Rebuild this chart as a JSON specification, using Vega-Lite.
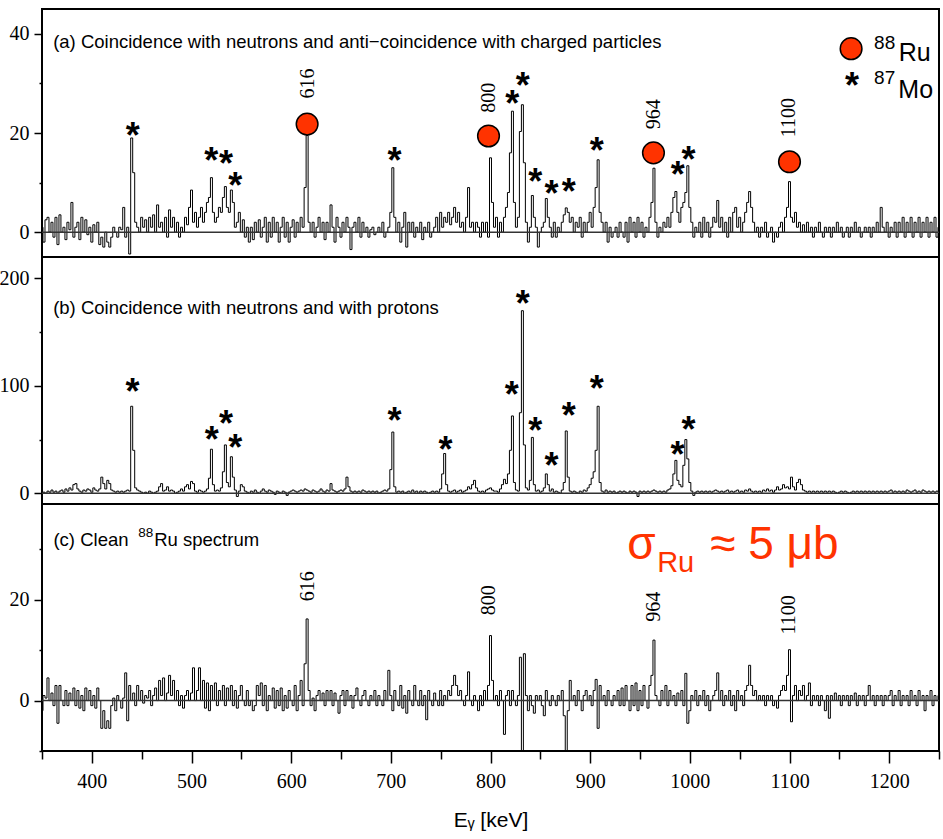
{
"$schema": "https://vega.github.io/schema/vega-lite/v6.json",
"padding": {"left": -2, "top": 8, "right": 0, "bottom": 0},
"background": "white",
"config": {
 "view": {"stroke": "black", "strokeWidth": 2},
 "axis": {"grid": false, "domain": false, "tickColor": "black", "tickWidth": 1.5, "labelColor": "black", "labelFont": "Liberation Serif, Times New Roman, DejaVu Serif, serif", "labelFontSize": 20, "titleFont": "Liberation Sans", "titleFontSize": 21, "titleFontWeight": "normal", "titleColor": "black"},
 "text": {"font": "Liberation Sans", "color": "black"}
},
"datasets": {
 "spec": [
{"e":350,"a":1,"b":0,"c":-2},{"e":352,"a":-2,"b":1,"c":1},{"e":354,"a":2.5,"b":0,"c":0.5},{"e":356,"a":3,"b":2,"c":4.5},{"e":358,"a":0,"b":1,"c":0},
{"e":360,"a":2,"b":3,"c":1.5},{"e":362,"a":-1,"b":1,"c":-1},{"e":364,"a":3,"b":2,"c":3},{"e":366,"a":-2.5,"b":0,"c":-4.5},{"e":368,"a":3.5,"b":2,"c":3},
{"e":370,"a":0,"b":3,"c":0},{"e":372,"a":1,"b":1,"c":-1},{"e":374,"a":-1.5,"b":4,"c":2},{"e":376,"a":2,"b":2,"c":-1},{"e":378,"a":0.5,"b":5,"c":1.5},
{"e":380,"a":6,"b":3,"c":0},{"e":382,"a":-1,"b":8,"c":2.5},{"e":384,"a":1,"b":9,"c":-1},{"e":386,"a":2,"b":4,"c":2},{"e":388,"a":-1.5,"b":2,"c":-1.5},
{"e":390,"a":3,"b":1,"c":1},{"e":392,"a":0,"b":3,"c":-2},{"e":394,"a":2.5,"b":2,"c":2.5},{"e":396,"a":-0.5,"b":4,"c":0},{"e":398,"a":1,"b":3,"c":2},
{"e":400,"a":-2,"b":1,"c":-1},{"e":402,"a":1.5,"b":5,"c":1},{"e":404,"a":0,"b":3,"c":-1.5},{"e":406,"a":2,"b":2,"c":2.5},{"e":408,"a":-2.5,"b":4,"c":0},
{"e":410,"a":-1,"b":15,"c":-5.5},{"e":412,"a":-3,"b":9,"c":-2},{"e":414,"a":0,"b":4,"c":-5.5},{"e":416,"a":-2,"b":12,"c":-4},{"e":418,"a":-3,"b":9,"c":-5.5},
{"e":420,"a":-1,"b":3,"c":-1},{"e":422,"a":1,"b":2,"c":0.5},{"e":424,"a":0,"b":1,"c":-2},{"e":426,"a":-1,"b":2,"c":1},{"e":428,"a":1,"b":1,"c":0},
{"e":430,"a":0.5,"b":2,"c":-1.5},{"e":432,"a":5,"b":1,"c":0.5},{"e":434,"a":-1,"b":2,"c":5.5},{"e":436,"a":1,"b":3,"c":-4},{"e":438,"a":-4.4,"b":2,"c":3},
{"e":440,"a":19,"b":81,"c":0},{"e":442,"a":12,"b":40,"c":1.5},{"e":444,"a":2,"b":5,"c":-1},{"e":446,"a":1,"b":3,"c":3},{"e":448,"a":0,"b":2,"c":0},
{"e":450,"a":3,"b":1,"c":2},{"e":452,"a":1,"b":0,"c":-0.5},{"e":454,"a":2.5,"b":1,"c":1},{"e":456,"a":0,"b":0,"c":0.5},{"e":458,"a":3,"b":2,"c":2},
{"e":460,"a":1,"b":1,"c":-1},{"e":462,"a":3.5,"b":0,"c":1},{"e":464,"a":0,"b":1,"c":2.5},{"e":466,"a":5.5,"b":2,"c":0},{"e":468,"a":1,"b":6,"c":4},
{"e":470,"a":2,"b":9,"c":1},{"e":472,"a":0,"b":2,"c":4.5},{"e":474,"a":3,"b":3,"c":0},{"e":476,"a":-1,"b":6,"c":1.5},{"e":478,"a":4.5,"b":2,"c":5},
{"e":480,"a":1,"b":3,"c":1},{"e":482,"a":3,"b":2,"c":4},{"e":484,"a":0,"b":0,"c":0},{"e":486,"a":2,"b":1,"c":2},{"e":488,"a":-1,"b":2,"c":-1},
{"e":490,"a":1,"b":4,"c":1},{"e":492,"a":0,"b":2,"c":-1.5},{"e":494,"a":3,"b":6,"c":1},{"e":496,"a":1.5,"b":8,"c":2},{"e":498,"a":5,"b":4,"c":0},
{"e":500,"a":8.5,"b":11,"c":1.5},{"e":502,"a":2,"b":9,"c":6.5},{"e":504,"a":4,"b":2,"c":0},{"e":506,"a":1,"b":1,"c":2},{"e":508,"a":3,"b":3,"c":6.5},
{"e":510,"a":5,"b":2,"c":0},{"e":512,"a":2,"b":1,"c":4},{"e":514,"a":4,"b":2,"c":-1.5},{"e":516,"a":6,"b":4,"c":3.5},{"e":518,"a":7,"b":14,"c":-2},
{"e":520,"a":11,"b":41,"c":3},{"e":522,"a":4,"b":8,"c":0},{"e":524,"a":2,"b":2,"c":3.5},{"e":526,"a":3,"b":3,"c":-1},{"e":528,"a":5,"b":2,"c":2},
{"e":530,"a":4,"b":5,"c":0},{"e":532,"a":7,"b":20,"c":3},{"e":534,"a":9.2,"b":45,"c":-1},{"e":536,"a":5,"b":10,"c":2.5},{"e":538,"a":4,"b":6,"c":0},
{"e":540,"a":8.5,"b":34,"c":3},{"e":542,"a":6,"b":15,"c":-1},{"e":544,"a":1,"b":3,"c":2},{"e":546,"a":2,"b":-3,"c":-1.5},{"e":548,"a":4,"b":2,"c":1},
{"e":550,"a":0,"b":8,"c":3},{"e":552,"a":2.5,"b":6,"c":0},{"e":554,"a":-1,"b":2,"c":-1},{"e":556,"a":1,"b":1,"c":2},{"e":558,"a":-2,"b":0,"c":-1},
{"e":560,"a":1,"b":2,"c":0},{"e":562,"a":-1.5,"b":1,"c":-2},{"e":564,"a":2,"b":3,"c":-1},{"e":566,"a":0,"b":1,"c":3},{"e":568,"a":2.5,"b":0,"c":1},
{"e":570,"a":-1,"b":2,"c":3.5},{"e":572,"a":1,"b":4,"c":-1},{"e":574,"a":3,"b":2,"c":3},{"e":576,"a":-2,"b":1,"c":-2},{"e":578,"a":2,"b":3,"c":1},
{"e":580,"a":-1,"b":2,"c":0},{"e":582,"a":3,"b":1,"c":2.5},{"e":584,"a":0,"b":-1,"c":-1.5},{"e":586,"a":2,"b":2,"c":2},{"e":588,"a":-2,"b":1,"c":-1},
{"e":590,"a":1,"b":0,"c":2.5},{"e":592,"a":3,"b":2,"c":-2},{"e":594,"a":-1,"b":1,"c":1},{"e":596,"a":2,"b":-2,"c":-1.5},{"e":598,"a":-2,"b":1,"c":2},
{"e":600,"a":1,"b":2,"c":0},{"e":602,"a":2.5,"b":3,"c":-1},{"e":604,"a":-1,"b":2,"c":3},{"e":606,"a":2,"b":1,"c":-2},{"e":608,"a":0,"b":2,"c":1},
{"e":610,"a":3,"b":3,"c":4},{"e":612,"a":1,"b":2,"c":-1},{"e":614,"a":9,"b":4,"c":7.3},{"e":616,"a":19.5,"b":3,"c":16.2},{"e":618,"a":2,"b":2,"c":2},
{"e":620,"a":0,"b":1,"c":-1},{"e":622,"a":2,"b":3,"c":0.5},{"e":624,"a":-1,"b":2,"c":-2},{"e":626,"a":1,"b":1,"c":1},{"e":628,"a":3,"b":2,"c":2},
{"e":630,"a":0,"b":4,"c":0},{"e":632,"a":2,"b":2,"c":1.5},{"e":634,"a":-1.5,"b":1,"c":-1},{"e":636,"a":2,"b":3,"c":2},{"e":638,"a":0,"b":2,"c":0},
{"e":640,"a":5.5,"b":9,"c":2},{"e":642,"a":1,"b":3,"c":-1},{"e":644,"a":-2,"b":2,"c":1.5},{"e":646,"a":3,"b":1,"c":0},{"e":648,"a":1,"b":2,"c":-2.5},
{"e":650,"a":-1,"b":3,"c":1},{"e":652,"a":2,"b":2,"c":2},{"e":654,"a":0,"b":4,"c":-1},{"e":656,"a":3,"b":15,"c":2},{"e":658,"a":1,"b":6,"c":0},
{"e":660,"a":-3.5,"b":2,"c":1},{"e":662,"a":1,"b":1,"c":-1.5},{"e":664,"a":2,"b":2,"c":1},{"e":666,"a":0,"b":1,"c":2.5},{"e":668,"a":3,"b":2,"c":0},
{"e":670,"a":-1,"b":1,"c":-1},{"e":672,"a":2,"b":3,"c":1},{"e":674,"a":0,"b":2,"c":2},{"e":676,"a":1,"b":1,"c":0},{"e":678,"a":-1,"b":2,"c":-1},
{"e":680,"a":0.5,"b":1,"c":1},{"e":682,"a":1,"b":2,"c":0},{"e":684,"a":-0.5,"b":1,"c":2},{"e":686,"a":0,"b":2,"c":-1},{"e":688,"a":1,"b":0,"c":1},
{"e":690,"a":0,"b":1,"c":0},{"e":692,"a":2,"b":2,"c":-1},{"e":694,"a":-1,"b":3,"c":2},{"e":696,"a":0,"b":2,"c":0},{"e":698,"a":1,"b":4,"c":6},
{"e":700,"a":4,"b":22,"c":1},{"e":702,"a":13,"b":57,"c":-2},{"e":704,"a":3,"b":6,"c":2},{"e":706,"a":0,"b":1,"c":0},{"e":708,"a":2,"b":2,"c":-1},
{"e":710,"a":-2,"b":1,"c":3},{"e":712,"a":1,"b":2,"c":-1.5},{"e":714,"a":4,"b":0,"c":1},{"e":716,"a":-3,"b":1,"c":-2.5},{"e":718,"a":2,"b":2,"c":2},
{"e":720,"a":0,"b":1,"c":0},{"e":722,"a":2,"b":3,"c":-1},{"e":724,"a":-1,"b":1,"c":3},{"e":726,"a":1,"b":2,"c":0},{"e":728,"a":0,"b":0,"c":-1},
{"e":730,"a":2,"b":2,"c":2},{"e":732,"a":-1.5,"b":1,"c":-1},{"e":734,"a":1,"b":2,"c":1},{"e":736,"a":0,"b":1,"c":-3.8},{"e":738,"a":2,"b":0,"c":2},
{"e":740,"a":-1,"b":1,"c":0},{"e":742,"a":0,"b":2,"c":-1},{"e":744,"a":1,"b":1,"c":1.5},{"e":746,"a":3,"b":2,"c":0},{"e":748,"a":0,"b":1,"c":-1},
{"e":750,"a":4,"b":4,"c":2},{"e":752,"a":1,"b":18,"c":-1},{"e":754,"a":3,"b":37,"c":1},{"e":756,"a":2,"b":8,"c":0},{"e":758,"a":4,"b":2,"c":2},
{"e":760,"a":1.5,"b":1,"c":1},{"e":762,"a":3,"b":2,"c":3},{"e":764,"a":5,"b":3,"c":5},{"e":766,"a":2,"b":1,"c":3},{"e":768,"a":4,"b":2,"c":1},
{"e":770,"a":1,"b":3,"c":2},{"e":772,"a":2,"b":1,"c":0},{"e":774,"a":0,"b":2,"c":-1},{"e":776,"a":3,"b":3,"c":1},{"e":778,"a":9,"b":6,"c":5.7},
{"e":780,"a":1,"b":4,"c":0},{"e":782,"a":2,"b":8,"c":-1},{"e":784,"a":0,"b":12,"c":1},{"e":786,"a":2,"b":5,"c":0},{"e":788,"a":1,"b":2,"c":-2},
{"e":790,"a":-1,"b":1,"c":1},{"e":792,"a":2,"b":2,"c":-1},{"e":794,"a":0,"b":1,"c":2},{"e":796,"a":2,"b":3,"c":0},{"e":798,"a":-1,"b":4,"c":3},
{"e":800,"a":15,"b":5,"c":12.9},{"e":802,"a":6,"b":3,"c":4},{"e":804,"a":1,"b":2,"c":0},{"e":806,"a":3,"b":2,"c":1},{"e":808,"a":-1,"b":1,"c":-1},
{"e":810,"a":2,"b":4,"c":2},{"e":812,"a":0,"b":8,"c":0},{"e":814,"a":3,"b":13,"c":-6.7},{"e":816,"a":5,"b":9,"c":1},{"e":818,"a":8,"b":18,"c":2},
{"e":820,"a":16,"b":40,"c":-1},{"e":822,"a":24.4,"b":72,"c":2},{"e":824,"a":6,"b":10,"c":0},{"e":826,"a":1,"b":3,"c":-1},{"e":828,"a":3,"b":2,"c":1},
{"e":830,"a":20.3,"b":75,"c":8.6},{"e":832,"a":25.7,"b":170,"c":-10},{"e":834,"a":14,"b":45,"c":9.3},{"e":836,"a":2,"b":5,"c":1},{"e":838,"a":-2,"b":3,"c":-2},
{"e":840,"a":1,"b":12,"c":1},{"e":842,"a":7.4,"b":52,"c":-1},{"e":844,"a":3,"b":8,"c":-2.5},{"e":846,"a":1,"b":2,"c":1},{"e":848,"a":-3,"b":3,"c":0},
{"e":850,"a":0,"b":1,"c":1},{"e":852,"a":1,"b":2,"c":-1},{"e":854,"a":2,"b":5,"c":-3},{"e":856,"a":6.8,"b":18,"c":2},{"e":858,"a":3,"b":8,"c":0},
{"e":860,"a":1,"b":2,"c":-1},{"e":862,"a":-1,"b":4,"c":1},{"e":864,"a":2,"b":1,"c":0},{"e":866,"a":-1,"b":2,"c":-1},{"e":868,"a":1,"b":1,"c":1},
{"e":870,"a":0,"b":0,"c":0},{"e":872,"a":2,"b":3,"c":2},{"e":874,"a":3.5,"b":10,"c":-3},{"e":876,"a":4.9,"b":58,"c":-10},{"e":878,"a":4,"b":15,"c":-2},
{"e":880,"a":2,"b":2,"c":4},{"e":882,"a":3,"b":1,"c":0},{"e":884,"a":0,"b":2,"c":1},{"e":886,"a":2,"b":1,"c":-1},{"e":888,"a":1,"b":0,"c":2},
{"e":890,"a":3,"b":2,"c":0},{"e":892,"a":-1,"b":1,"c":-2},{"e":894,"a":2,"b":3,"c":1},{"e":896,"a":0,"b":2,"c":2},{"e":898,"a":2,"b":5,"c":0},
{"e":900,"a":4,"b":8,"c":1},{"e":902,"a":1,"b":14,"c":-1},{"e":904,"a":5,"b":20,"c":2},{"e":906,"a":9,"b":40,"c":4.2},{"e":908,"a":14.6,"b":81,"c":-5.5},
{"e":910,"a":4,"b":10,"c":3},{"e":912,"a":2,"b":2,"c":0},{"e":914,"a":0,"b":1,"c":1},{"e":916,"a":2,"b":3,"c":-1},{"e":918,"a":-2,"b":1,"c":2},
{"e":920,"a":1,"b":2,"c":0},{"e":922,"a":-1,"b":1,"c":-1},{"e":924,"a":0,"b":2,"c":1},{"e":926,"a":1,"b":0,"c":0},{"e":928,"a":-1,"b":1,"c":2},
{"e":930,"a":2,"b":2,"c":-1},{"e":932,"a":0,"b":1,"c":2.5},{"e":934,"a":-1,"b":2,"c":-1},{"e":936,"a":2,"b":1,"c":3},{"e":938,"a":-2,"b":0,"c":0},
{"e":940,"a":3,"b":2,"c":-2},{"e":942,"a":0,"b":1,"c":3},{"e":944,"a":2,"b":2,"c":-1},{"e":946,"a":-1,"b":1,"c":3.5},{"e":948,"a":3,"b":-3,"c":-2},
{"e":950,"a":0,"b":2,"c":2},{"e":952,"a":2,"b":1,"c":-1},{"e":954,"a":-1,"b":2,"c":3},{"e":956,"a":1,"b":1,"c":0},{"e":958,"a":0,"b":2,"c":-1.5},
{"e":960,"a":3,"b":1,"c":3},{"e":962,"a":6,"b":2,"c":5},{"e":964,"a":12.9,"b":3,"c":12},{"e":966,"a":2,"b":2,"c":1},{"e":968,"a":-1,"b":1,"c":0},
{"e":970,"a":1,"b":2,"c":-1},{"e":972,"a":0,"b":1,"c":2},{"e":974,"a":2,"b":2,"c":0},{"e":976,"a":1,"b":1,"c":3},{"e":978,"a":3,"b":3,"c":-1},
{"e":980,"a":1,"b":4,"c":2},{"e":982,"a":4,"b":7,"c":0},{"e":984,"a":7,"b":18,"c":1},{"e":986,"a":8.2,"b":30.6,"c":-1},{"e":988,"a":4,"b":12,"c":1.5},
{"e":990,"a":2,"b":8,"c":0},{"e":992,"a":5,"b":6,"c":2},{"e":994,"a":6,"b":26,"c":-1},{"e":996,"a":8,"b":50,"c":5.4},{"e":998,"a":13.4,"b":32,"c":-4.5},
{"e":1000,"a":5,"b":10,"c":-2},{"e":1002,"a":2,"b":2,"c":1},{"e":1004,"a":-1,"b":-2,"c":0},{"e":1006,"a":1,"b":1,"c":2},{"e":1008,"a":0,"b":2,"c":-1},
{"e":1010,"a":2,"b":1,"c":1},{"e":1012,"a":-1,"b":2,"c":0},{"e":1014,"a":3,"b":1,"c":2},{"e":1016,"a":0,"b":2,"c":-1},{"e":1018,"a":2,"b":1,"c":1},
{"e":1020,"a":-1,"b":2,"c":-2},{"e":1022,"a":1,"b":1,"c":0},{"e":1024,"a":3,"b":2,"c":1},{"e":1026,"a":2,"b":3,"c":2},{"e":1028,"a":6.4,"b":2,"c":5.5},
{"e":1030,"a":1,"b":1,"c":0},{"e":1032,"a":3,"b":2,"c":2},{"e":1034,"a":0,"b":1,"c":-1},{"e":1036,"a":2,"b":2,"c":1},{"e":1038,"a":-1,"b":3,"c":0},
{"e":1040,"a":3,"b":1,"c":2},{"e":1042,"a":0,"b":2,"c":-1},{"e":1044,"a":4,"b":1,"c":1},{"e":1046,"a":5,"b":2,"c":-2},{"e":1048,"a":1,"b":3,"c":2},
{"e":1050,"a":3,"b":1,"c":0},{"e":1052,"a":0,"b":2,"c":1},{"e":1054,"a":2,"b":1,"c":-1},{"e":1056,"a":4,"b":3,"c":2},{"e":1058,"a":6,"b":2,"c":3},
{"e":1060,"a":8.2,"b":4,"c":7},{"e":1062,"a":5,"b":2,"c":3},{"e":1064,"a":2,"b":1,"c":1},{"e":1066,"a":0,"b":2,"c":2},{"e":1068,"a":1,"b":1,"c":0},
{"e":1070,"a":-1,"b":2,"c":1},{"e":1072,"a":1,"b":1,"c":0},{"e":1074,"a":0,"b":3,"c":1},{"e":1076,"a":2,"b":2,"c":-1},{"e":1078,"a":-1,"b":4,"c":1},
{"e":1080,"a":0,"b":2,"c":0},{"e":1082,"a":1,"b":3,"c":1},{"e":1084,"a":-2,"b":1,"c":-1},{"e":1086,"a":0,"b":3,"c":0},{"e":1088,"a":-1,"b":6,"c":-1.5},
{"e":1090,"a":1,"b":3,"c":1},{"e":1092,"a":2,"b":4,"c":2},{"e":1094,"a":0,"b":8,"c":3},{"e":1096,"a":3,"b":5,"c":2},{"e":1098,"a":5,"b":6,"c":5},
{"e":1100,"a":10.2,"b":4,"c":10.1},{"e":1102,"a":3,"b":15,"c":-4.2},{"e":1104,"a":2,"b":6,"c":1},{"e":1106,"a":4,"b":3,"c":3},{"e":1108,"a":1,"b":10,"c":0},
{"e":1110,"a":2,"b":13,"c":2},{"e":1112,"a":0,"b":8,"c":1},{"e":1114,"a":1.5,"b":3,"c":3},{"e":1116,"a":0,"b":2,"c":0},{"e":1118,"a":2,"b":1,"c":1},
{"e":1120,"a":0,"b":2,"c":3.5},{"e":1122,"a":1,"b":1,"c":-1},{"e":1124,"a":-1,"b":2,"c":1},{"e":1126,"a":1,"b":1,"c":0},{"e":1128,"a":0,"b":2,"c":1},
{"e":1130,"a":2,"b":1,"c":-1},{"e":1132,"a":0,"b":2,"c":1},{"e":1134,"a":-1,"b":1,"c":0},{"e":1136,"a":1,"b":2,"c":-2},{"e":1138,"a":0,"b":1,"c":1},
{"e":1140,"a":1,"b":2,"c":-3.5},{"e":1142,"a":-1,"b":1,"c":1},{"e":1144,"a":1,"b":2,"c":0},{"e":1146,"a":0,"b":1,"c":1.5},{"e":1148,"a":2,"b":0,"c":0},
{"e":1150,"a":0,"b":1,"c":1},{"e":1152,"a":1,"b":2,"c":-1},{"e":1154,"a":-1,"b":1,"c":1},{"e":1156,"a":0,"b":2,"c":0},{"e":1158,"a":1,"b":1,"c":1},
{"e":1160,"a":-1,"b":0,"c":-1},{"e":1162,"a":1,"b":1,"c":1},{"e":1164,"a":0,"b":2,"c":0},{"e":1166,"a":2,"b":1,"c":1.5},{"e":1168,"a":0,"b":2,"c":-1},
{"e":1170,"a":1,"b":1,"c":1},{"e":1172,"a":-1,"b":2,"c":0},{"e":1174,"a":0,"b":1,"c":1},{"e":1176,"a":1,"b":2,"c":-1},{"e":1178,"a":0,"b":1,"c":1},
{"e":1180,"a":1,"b":2,"c":3},{"e":1182,"a":-1,"b":1,"c":0},{"e":1184,"a":1,"b":2,"c":1},{"e":1186,"a":0,"b":1,"c":-1},{"e":1188,"a":2,"b":2,"c":1},
{"e":1190,"a":0,"b":1,"c":0},{"e":1192,"a":5,"b":2,"c":1},{"e":1194,"a":1,"b":1,"c":-1},{"e":1196,"a":0,"b":2,"c":1},{"e":1198,"a":2,"b":1,"c":0},
{"e":1200,"a":-1,"b":2,"c":1},{"e":1202,"a":1,"b":3,"c":2},{"e":1204,"a":0,"b":1,"c":-1},{"e":1206,"a":2,"b":2,"c":1},{"e":1208,"a":-1,"b":1,"c":0},
{"e":1210,"a":2,"b":2,"c":2},{"e":1212,"a":0,"b":1,"c":-1},{"e":1214,"a":3,"b":2,"c":1},{"e":1216,"a":-1,"b":1,"c":0},{"e":1218,"a":2,"b":3,"c":1},
{"e":1220,"a":0,"b":2,"c":-1},{"e":1222,"a":3,"b":1,"c":2},{"e":1224,"a":-1,"b":2,"c":0},{"e":1226,"a":2,"b":3,"c":1},{"e":1228,"a":0,"b":1,"c":-1},
{"e":1230,"a":3,"b":2,"c":2},{"e":1232,"a":-1,"b":1,"c":0},{"e":1234,"a":2,"b":3,"c":1},{"e":1236,"a":0,"b":2,"c":-2},{"e":1238,"a":3,"b":1,"c":1},
{"e":1240,"a":-1,"b":2,"c":0},{"e":1242,"a":2,"b":1,"c":2},{"e":1244,"a":0,"b":2,"c":-1},{"e":1246,"a":3,"b":1,"c":1},{"e":1248,"a":-1,"b":2,"c":0},
{"e":1250,"a":1,"b":1,"c":1}
 ],
 "astA": [{"e":441,"y":20.7},{"e":519.7,"y":15.6},{"e":534.7,"y":14.9},{"e":543.8,"y":10.5},{"e":703.6,"y":15.6},{"e":821.7,"y":27.0},{"e":832.4,"y":30.6},{"e":844.8,"y":11.3},{"e":861.1,"y":9.0},{"e":878.6,"y":9.3},{"e":906.7,"y":17.6},{"e":988,"y":12.7},{"e":998.6,"y":15.8},{"e":1162.8,"y":30.7}],
 "astB": [{"e":440.8,"y":99.9},{"e":520.2,"y":54.9},{"e":534.7,"y":69.8},{"e":543.8,"y":48.0},{"e":703.6,"y":72.9},{"e":754.8,"y":46.2},{"e":821.4,"y":96.8},{"e":832.4,"y":181.6},{"e":844.8,"y":63.6},{"e":861.1,"y":31.0},{"e":878.6,"y":77.3},{"e":906.7,"y":103.0},{"e":987.6,"y":41.0},{"e":998.6,"y":64.2}],
 "circA": [{"e":616,"y":21.8},{"e":798,"y":19.4},{"e":963.5,"y":16.0},{"e":1100,"y":14.2},{"e":1161.8,"y":37.0}],
 "labA": [{"e":616.5,"y":30.0,"t":"616"},{"e":798.6,"y":27.1,"t":"800"},{"e":964.5,"y":23.8,"t":"964"},{"e":1099.6,"y":23.1,"t":"1100"}],
 "labC": [{"e":616.5,"y":22.7,"t":"616"},{"e":798.6,"y":19.9,"t":"800"},{"e":964.5,"y":18.6,"t":"964"},{"e":1099.6,"y":17.0,"t":"1100"}]
},
"vconcat": [
 {
  "width": 897, "height": 248,
  "layer": [
   {"data": {"name": "spec"}, "mark": {"type": "line", "interpolate": "step", "color": "black", "strokeWidth": 1},
    "encoding": {
     "x": {"field": "e", "type": "quantitative", "scale": {"domain": [350, 1250], "nice": false, "zero": false}, "axis": null},
     "y": {"field": "a", "type": "quantitative", "scale": {"domain": [-5, 45], "nice": false, "zero": false}, "axis": {"orient": "left", "values": [0, 20, 40], "tickSize": 8, "labelPadding": 5, "title": null, "format": "d"}}}},
   {"data": {"values": [{"v": 0}]}, "mark": {"type": "rule", "color": "#333333", "strokeWidth": 1.5},
    "encoding": {"y": {"field": "v", "type": "quantitative", "axis": {"orient": "left", "values": [10, 30], "tickSize": 3, "labels": false, "title": null}}}},
   {"data": {"name": "astA"}, "mark": {"type": "text", "text": "*", "font": "Liberation Sans", "fontWeight": "bold", "fontSize": 36, "align": "center", "baseline": "alphabetic", "dy": 18},
    "encoding": {"x": {"field": "e", "type": "quantitative", "axis": null}, "y": {"field": "y", "type": "quantitative", "axis": null}}},
   {"data": {"name": "circA"}, "mark": {"type": "point", "shape": "circle", "filled": true, "fill": "#FF3300", "stroke": "black", "strokeWidth": 1.5, "size": 470, "opacity": 1},
    "encoding": {"x": {"field": "e", "type": "quantitative", "axis": null}, "y": {"field": "y", "type": "quantitative", "axis": null}}},
   {"data": {"name": "labA"}, "mark": {"type": "text", "font": "Liberation Serif, Times New Roman, DejaVu Serif, serif", "fontSize": 20, "angle": 270, "align": "center", "baseline": "middle"},
    "encoding": {"x": {"field": "e", "type": "quantitative", "axis": null}, "y": {"field": "y", "type": "quantitative", "axis": null}, "text": {"field": "t"}}},
   {"data": {"values": [{"e": 361.2, "y": 37.2, "t": "(a) Coincidence with neutrons and anti−coincidence with charged particles"}]}, "mark": {"type": "text", "fontSize": 18.5, "align": "left", "baseline": "alphabetic"},
    "encoding": {"x": {"field": "e", "type": "quantitative", "axis": null}, "y": {"field": "y", "type": "quantitative", "axis": null}, "text": {"field": "t"}}},
   {"data": {"values": [{"e": 1209.5, "y": 34.5, "t": "Ru"}, {"e": 1209.2, "y": 27.1, "t": "Mo"}]}, "mark": {"type": "text", "fontSize": 25, "align": "left", "baseline": "alphabetic"},
    "encoding": {"x": {"field": "e", "type": "quantitative", "axis": null}, "y": {"field": "y", "type": "quantitative", "axis": null}, "text": {"field": "t"}}},
   {"data": {"values": [{"e": 1184.9, "y": 36.9, "t": "88"}, {"e": 1184.9, "y": 29.8, "t": "87"}]}, "mark": {"type": "text", "fontSize": 19, "align": "left", "baseline": "alphabetic"},
    "encoding": {"x": {"field": "e", "type": "quantitative", "axis": null}, "y": {"field": "y", "type": "quantitative", "axis": null}, "text": {"field": "t"}}}
  ],
  "resolve": {"axis": {"x": "independent", "y": "independent"}}
 },
 {
  "width": 897, "height": 247,
  "layer": [
   {"data": {"name": "spec"}, "mark": {"type": "line", "interpolate": "step", "color": "black", "strokeWidth": 1},
    "encoding": {
     "x": {"field": "e", "type": "quantitative", "scale": {"domain": [350, 1250], "nice": false, "zero": false}, "axis": null},
     "y": {"field": "b", "type": "quantitative", "scale": {"domain": [-10, 220], "nice": false, "zero": false}, "axis": {"orient": "left", "values": [0, 100, 200], "tickSize": 8, "labelPadding": 5, "title": null, "format": "d"}}}},
   {"data": {"values": [{"v": 0}]}, "mark": {"type": "rule", "color": "#333333", "strokeWidth": 1.5},
    "encoding": {"y": {"field": "v", "type": "quantitative", "axis": {"orient": "left", "values": [50, 150], "tickSize": 3, "labels": false, "title": null}}}},
   {"data": {"name": "astB"}, "mark": {"type": "text", "text": "*", "font": "Liberation Sans", "fontWeight": "bold", "fontSize": 36, "align": "center", "baseline": "alphabetic", "dy": 18},
    "encoding": {"x": {"field": "e", "type": "quantitative", "axis": null}, "y": {"field": "y", "type": "quantitative", "axis": null}}},
   {"data": {"values": [{"e": 361.2, "y": 166.7, "t": "(b) Coincidence with neutrons and with protons"}]}, "mark": {"type": "text", "fontSize": 18.5, "align": "left", "baseline": "alphabetic"},
    "encoding": {"x": {"field": "e", "type": "quantitative", "axis": null}, "y": {"field": "y", "type": "quantitative", "axis": null}, "text": {"field": "t"}}}
  ],
  "resolve": {"axis": {"x": "independent", "y": "independent"}}
 },
 {
  "width": 897, "height": 247,
  "layer": [
   {"data": {"name": "spec"}, "mark": {"type": "line", "interpolate": "step", "color": "black", "strokeWidth": 1},
    "encoding": {
     "x": {"field": "e", "type": "quantitative", "scale": {"domain": [350, 1250], "nice": false, "zero": false}, "axis": {"orient": "bottom", "values": [400, 500, 600, 700, 800, 900, 1000, 1100, 1200], "tickSize": 12, "labelPadding": 8, "format": "d", "title": "Eᵧ  [keV]", "titlePadding": 18}},
     "y": {"field": "c", "type": "quantitative", "scale": {"domain": [-10, 39], "nice": false, "zero": false}, "axis": {"orient": "left", "values": [0, 20], "tickSize": 8, "labelPadding": 5, "title": null, "format": "d"}}}},
   {"data": {"values": [{"v": 0}]}, "mark": {"type": "rule", "color": "#333333", "strokeWidth": 1.5},
    "encoding": {"y": {"field": "v", "type": "quantitative", "axis": {"orient": "left", "values": [-10, 10, 30], "tickSize": 3, "labels": false, "title": null}}}},
   {"data": {"name": "labC"}, "mark": {"type": "text", "font": "Liberation Serif, Times New Roman, DejaVu Serif, serif", "fontSize": 20, "angle": 270, "align": "center", "baseline": "middle"},
    "encoding": {"x": {"field": "e", "type": "quantitative", "axis": {"orient": "bottom", "values": [350, 450, 550, 650, 750, 850, 950, 1050, 1150, 1250], "tickSize": 8, "labels": false, "title": null}}, "y": {"field": "y", "type": "quantitative", "axis": null}, "text": {"field": "t"}}},
   {"data": {"values": [{"e": 361.5, "y": 30.7, "t": "(c) Clean"}, {"e": 462.6, "y": 30.7, "t": "Ru spectrum"}]}, "mark": {"type": "text", "fontSize": 18.5, "align": "left", "baseline": "alphabetic"},
    "encoding": {"x": {"field": "e", "type": "quantitative", "axis": null}, "y": {"field": "y", "type": "quantitative", "axis": null}, "text": {"field": "t"}}},
   {"data": {"values": [{"e": 446.5, "y": 32.5, "t": "88"}]}, "mark": {"type": "text", "fontSize": 13.5, "align": "left", "baseline": "alphabetic"},
    "encoding": {"x": {"field": "e", "type": "quantitative", "axis": null}, "y": {"field": "y", "type": "quantitative", "axis": null}, "text": {"field": "t"}}},
   {"data": {"values": [{"e": 937.1, "y": 28.0, "t": "σ"}, {"e": 1020.4, "y": 28.0, "t": "≈ 5 μb"}]}, "mark": {"type": "text", "fontSize": 46, "color": "#FF3300", "align": "left", "baseline": "alphabetic"},
    "encoding": {"x": {"field": "e", "type": "quantitative", "axis": null}, "y": {"field": "y", "type": "quantitative", "axis": null}, "text": {"field": "t"}}},
   {"data": {"values": [{"e": 967.2, "y": 25.5, "t": "Ru"}]}, "mark": {"type": "text", "fontSize": 29, "color": "#FF3300", "align": "left", "baseline": "alphabetic"},
    "encoding": {"x": {"field": "e", "type": "quantitative", "axis": null}, "y": {"field": "y", "type": "quantitative", "axis": null}, "text": {"field": "t"}}}
  ],
  "resolve": {"axis": {"x": "independent", "y": "independent"}}
 }
],
"spacing": 0,
"bounds": "flush"
}
